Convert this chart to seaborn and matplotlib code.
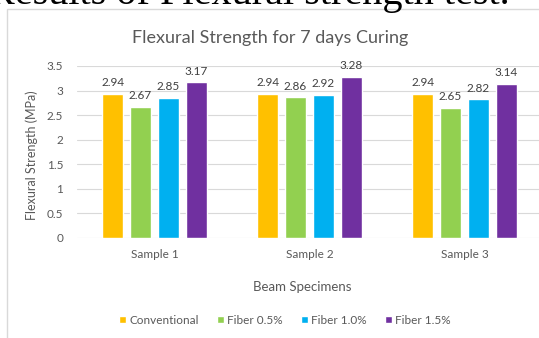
import pandas as pd
import seaborn as sns
from matplotlib import pyplot as plt
from matplotlib.patches import Rectangle

samples = ["Sample 1", "Sample 2", "Sample 3"]
mixes = ["Conventional", "Fiber 0.5%", "Fiber 1.0%", "Fiber 1.5%"]
conventional = [2.94, 2.94, 2.94]
fiber_05 = [2.67, 2.86, 2.65]
fiber_10 = [2.85, 2.92, 2.82]
fiber_15 = [3.17, 3.28, 3.14]
colors = ["#FFC000", "#92D050", "#00B0F0", "#7030A0"]

rows = []
for mix, vals in zip(mixes, [conventional, fiber_05, fiber_10, fiber_15]):
    for s, v in zip(samples, vals):
        rows.append({"Sample": s, "Mix": mix, "Strength": v})
data = pd.DataFrame(rows)

sns.set_style("white")
plt.rcParams["font.family"] = ["Lato", "DejaVu Sans"]

W, H = 539, 338
fig = plt.figure(figsize=(W / 100, H / 100), dpi=100)

# caption of the page, cut off at the top
fig.text(-12 / W, 1 - 4 / H, "Results of Flexural strength test.",
         family="Liberation Serif", fontsize=29, va="baseline", ha="left",
         color="black")

# chart area border
fig.patches.append(Rectangle((7 / W, -0.05), 1.0, 1 - 9 / H + 0.05,
                             transform=fig.transFigure, fill=False,
                             edgecolor="#d9d9d9", linewidth=1))

ax = fig.add_axes([77 / W, (H - 238) / H, 465 / W, 172 / H])
sns.barplot(data=data, x="Sample", y="Strength", hue="Mix",
            palette=colors, width=0.72, gap=0.23, ax=ax,
            saturation=1, legend=True)

ax.set_xlim(-0.5, 2.5)
ax.set_ylim(0, 3.5)
ax.set_yticks([0, 0.5, 1, 1.5, 2, 2.5, 3, 3.5])
ax.set_yticklabels(["0", "0.5", "1", "1.5", "2", "2.5", "3", "3.5"])
ax.yaxis.grid(True, color="#d9d9d9", linewidth=0.8)
ax.set_axisbelow(True)
sns.despine(ax=ax, left=True, bottom=True)
ax.tick_params(axis="y", length=0, labelsize=8.5, labelcolor="#595959", pad=10)
ax.tick_params(axis="x", length=0, labelsize=8.5, labelcolor="#595959", pad=8)

for cont in ax.containers:
    ax.bar_label(cont, fmt="%.2f", padding=4, fontsize=8.5, color="#404040")

ax.set_xlabel("Beam Specimens", fontsize=9.5, color="#595959")
ax.set_ylabel("Flexural Strength (MPa)", fontsize=9, color="#595959")
ax.xaxis.set_label_coords((302 - 77) / 465, -(281 - 238) / 172)
ax.yaxis.set_label_coords(-(77 - 38) / 465, (238 - 155) / 172)

fig.text(270 / W, 1 - 38 / H, "Flexural Strength for 7 days Curing",
         fontsize=13, color="#595959", ha="center", va="center")

handles, labels = ax.get_legend_handles_labels()
ax.legend_.remove()
fig.legend(handles, labels, loc="center", bbox_to_anchor=(285 / W, 18 / H),
           ncol=4, frameon=False, fontsize=8.5, handlelength=0.6,
           handleheight=0.6, handletextpad=0.3, columnspacing=1.5,
           labelcolor="#595959")

fig.savefig("out.png", dpi=100)
